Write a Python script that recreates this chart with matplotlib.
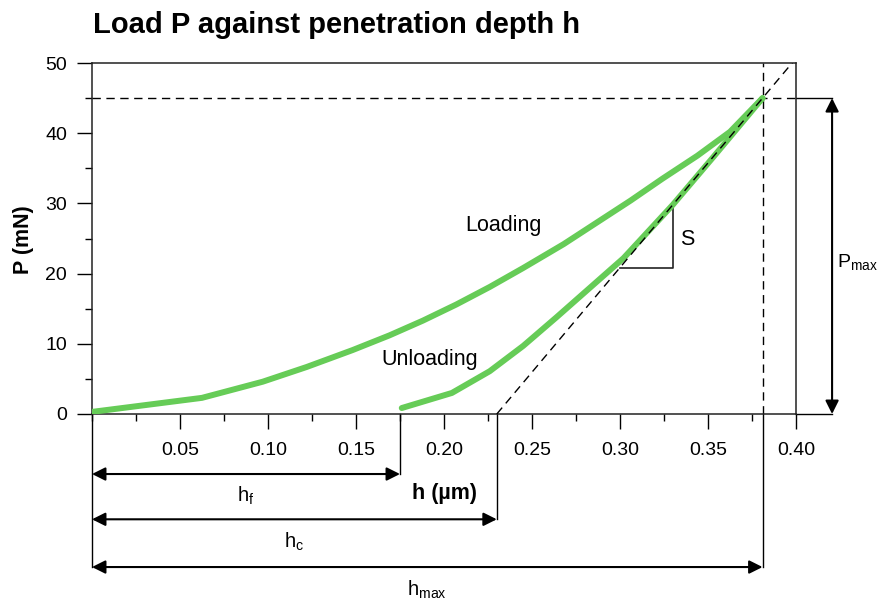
import matplotlib
matplotlib.use("Agg")
import matplotlib.pyplot as plt
from matplotlib.ticker import MultipleLocator

plt.rcParams['font.family'] = ['Liberation Sans', 'DejaVu Sans']

# --- Indentation curve data (h in um, P in mN) ---
load_h = [0.0, 0.0625, 0.097, 0.122, 0.148, 0.169, 0.188, 0.207, 0.226, 0.245,
          0.268, 0.287, 0.306, 0.324, 0.344, 0.3625, 0.381]
load_p = [0.3, 2.3, 4.6, 6.7, 9.1, 11.2, 13.3, 15.6, 18.1, 20.8,
          24.2, 27.3, 30.4, 33.5, 36.8, 40.2, 45.0]

unload_h = [0.176, 0.2045, 0.226, 0.245, 0.264, 0.283, 0.302, 0.330, 0.353, 0.381]
unload_p = [0.85, 3.0, 6.1, 9.7, 13.8, 18.0, 22.2, 29.8, 36.6, 45.0]

h_f = 0.175
h_c = 0.23
h_max = 0.381
p_max = 45.0

x_ticks = [0.05, 0.10, 0.15, 0.20, 0.25, 0.30, 0.35, 0.40]
x_ticklabels = ["0.05", "0.10", "0.15", "0.20", "0.25", "0.30", "0.35", "0.40"]
y_ticks = [0, 10, 20, 30, 40, 50]

GREEN = "#66cc57"
DASH = (0, (6, 4))

fig = plt.figure(figsize=(8.79, 5.99), dpi=100)
ax = fig.add_axes([92 / 879, 1 - 414 / 599, 704 / 879, 351 / 599])
ax.set_xlim(0, 0.40)
ax.set_ylim(0, 50)

# --- Curves ---
ax.plot(load_h, load_p, color=GREEN, lw=4.3, solid_capstyle="round",
        solid_joinstyle="round", zorder=3)
ax.plot(unload_h, unload_p, color=GREEN, lw=4.3, solid_capstyle="round",
        solid_joinstyle="round", zorder=3)

# Tangent to the unloading curve at Pmax (stiffness S)
stiff = p_max / (h_max - h_c)
ax.plot([h_c, 0.40], [0, stiff * (0.40 - h_c)], color="k", lw=1, ls=DASH, zorder=4)

# Reference dashed lines at Pmax and hmax
ax.plot([0, 0.40], [p_max, p_max], color="k", lw=1, ls=DASH)
ax.plot([h_max, h_max], [0, 50], color="k", lw=1, ls=DASH)

# Slope triangle
s_h0, s_h1 = 0.30, 0.33
ax.plot([s_h0, s_h1, s_h1], [stiff * (s_h0 - h_c), stiff * (s_h0 - h_c), stiff * (s_h1 - h_c)],
        color="#222222", lw=1.2, zorder=2)
ax.text(0.334, 24.9, "S", fontsize=15.5, ha="left", va="center")

ax.text(0.234, 26.8, "Loading", fontsize=15.5, ha="center", va="center")
ax.text(0.192, 7.8, "Unloading", fontsize=15.5, ha="center", va="center")

# --- Dimension lines below the axis ---
line_kw = dict(color="k", lw=1, clip_on=False)
arrow_kw = dict(arrowstyle="<|-|>", color="k", lw=1.5, mutation_scale=20, shrinkA=0, shrinkB=0)

dims = [(h_f, -8.55, "h$_\\mathregular{f}$", -11.6),
        (h_c, -15.0, "h$_\\mathregular{c}$", -18.2),
        (h_max, -21.8, "h$_\\mathregular{max}$", -25.0)]
ax.plot([0, 0], [0, -21.8], **line_kw)
for h, y, label, ty in dims:
    ax.plot([h, h], [0, y], **line_kw)
    ax.annotate("", xy=(h, y), xytext=(0, y), arrowprops=arrow_kw, annotation_clip=False)
    ax.text(h / 2, ty, label, fontsize=14.5, ha="center", va="center", clip_on=False)

# Pmax dimension on the right
p_x = 0.4205
ax.plot([0.40, p_x], [p_max, p_max], **line_kw)
ax.plot([0.40, p_x], [0, 0], **line_kw)
ax.annotate("", xy=(p_x, p_max), xytext=(p_x, 0), arrowprops=arrow_kw, annotation_clip=False)
ax.text(0.4235, 21.6, "P$_\\mathregular{max}$", fontsize=14, ha="left", va="center", clip_on=False)

# --- Axes styling ---
for spine in ax.spines.values():
    spine.set_linewidth(1.1)
    spine.set_color("#222222")

ax.set_xticks(x_ticks)
ax.set_xticklabels(x_ticklabels)
ax.xaxis.set_minor_locator(MultipleLocator(0.025))
ax.set_yticks(y_ticks)
ax.yaxis.set_minor_locator(MultipleLocator(5))
ax.tick_params(axis="x", which="major", direction="out", length=11, width=1, pad=9, labelsize=14)
ax.tick_params(axis="x", which="minor", direction="out", length=5, width=1)
ax.tick_params(axis="y", which="major", direction="out", length=11, width=1, pad=7, labelsize=14)
ax.tick_params(axis="y", which="minor", direction="out", length=5, width=1)

ax.text(-0.039, 24.8, "P (mN)", fontsize=15.5, fontweight="bold", rotation=90,
        ha="center", va="center", clip_on=False)
ax.text(0.2, -11.3, "h (µm)", fontsize=15.5, fontweight="bold", ha="center", va="center", clip_on=False)

fig.text(93 / 879, 1 - 25 / 599, "Load P against penetration depth h", fontsize=21,
         fontweight="bold", ha="left", va="center")

fig.savefig("out.png", dpi=100)
